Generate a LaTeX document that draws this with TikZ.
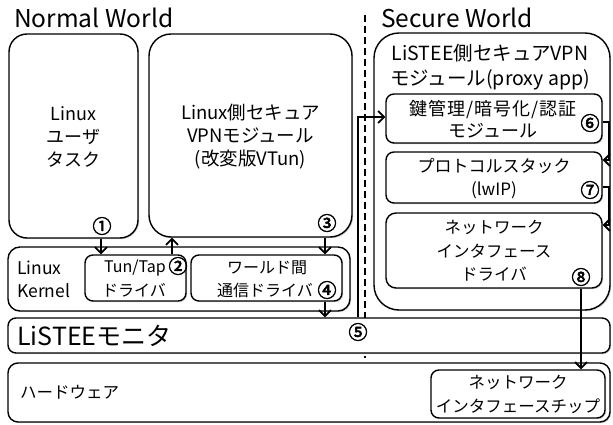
\documentclass[tikz,border=0pt]{standalone}
\usepackage{fontspec}
\setmainfont{Noto Sans CJK JP}
\newfontfamily\numfont{Noto Sans CJK JP}[FakeBold=3]
\usetikzlibrary{arrows.meta,shadows}
\begin{document}
\begin{tikzpicture}[x=1pt,y=-1pt,
  box/.style={draw, line width=1.4pt, fill=white, rounded corners=#1, inner sep=0pt,
    drop shadow={shadow xshift=1.2pt,shadow yshift=-1.2pt,opacity=0.35}},
  box/.default=8pt,
  txt/.style={inner sep=0pt, align=center, font=\fontsize{18}{23}\selectfont},
  small/.style={inner sep=0pt, align=center, font=\fontsize{16}{22}\selectfont},
  title/.style={inner sep=0pt, anchor=west, font=\fontsize{24.5}{28}\selectfont},
  num/.style={inner sep=0pt, font=\fontsize{19}{19}\numfont},
  arr/.style={line width=1.8pt, -{Straight Barb[length=6pt,width=12pt]}},
  divider/.style={line width=2.6pt, dash pattern=on 7pt off 4pt}]
\useasboundingbox (0,0) rectangle (613,425);

% Normal world
\node[box=18pt, minimum width=129pt, minimum height=204pt] (user) at (73.5,136) {};
\node[txt] (usert) at (73.5,137) {Linux\\ユーザ\\タスク};
\node[box=22pt, minimum width=203pt, minimum height=203pt] (vpn) at (250.5,135.5) {};
\node[txt, font=\fontsize{18.5}{23}\selectfont] (vpnt) at (250.5,137) {Linux側セキュア\\VPNモジュール\\(改変版VTun)};

\node[box=12pt, minimum width=342pt, minimum height=64pt] (kernel) at (179,279) {};
\node[small, anchor=west, align=left, font=\fontsize{17.5}{23}\selectfont] (kernelt) at (17,279) {Linux\\Kernel};
\node[box=8pt, minimum width=101pt, minimum height=46pt] (tun) at (135.5,278) {};
\node[small] (tun1) at (135,268) {Tun/Tap};
\node[small] (tun2) at (134,290) {ドライバ};
\node[box=8pt, minimum width=151pt, minimum height=46pt] (comm) at (266.5,278) {};
\node[small] (comm1) at (267,268) {ワールド間};
\node[small] (comm2) at (265,290) {通信ドライバ};

% Secure world
\node[box=25pt, minimum width=236pt, minimum height=277pt] (secure) at (492,171.5) {};
\node[inner sep=0pt, align=center, font=\fontsize{19.5}{25}\selectfont] (securet) at (490,67) {LiSTEE側セキュアVPN\\モジュール(proxy app)};
\node[box=8pt, minimum width=216pt, minimum height=49pt] (key) at (494,118.5) {};
\node[txt, font=\fontsize{18}{22}\selectfont] (keyt) at (493,119) {{\addfontfeature{LetterSpace=5}鍵管理/暗号化/認証}\\モジュール};
\node[box=8pt, minimum width=216pt, minimum height=51pt] (proto) at (494,177.5) {};
\node[txt, font=\fontsize{17}{23}\selectfont] (protot) at (494,178.5) {プロトコルスタック\\(lwIP)};
\node[box=10pt, minimum width=216pt, minimum height=75pt] (nic) at (494,250.5) {};
\node[txt, font=\fontsize{16.5}{23.5}\selectfont] (nict) at (494,251) {ネットワーク\\インタフェース\\ドライバ};

% divider between worlds
\coordinate (dtop) at (365,15);
\coordinate (dbot) at (365,358);
\draw[divider] (dtop) -- (dbot);

% Monitor and hardware
\node[box=8pt, minimum width=602pt, minimum height=35pt] (monitor) at (309,335.5) {};
\node[inner sep=0pt, anchor=west, font=\fontsize{25}{28}\selectfont] (monitort) at (17,336) {LiSTEEモニタ};
\node[box=10pt, minimum width=602pt, minimum height=59pt] (hw) at (309,392.5) {};
\node[inner sep=0pt, anchor=west, font=\fontsize{16.5}{20}\selectfont] (hwt) at (20,392) {ハードウェア};
\node[box=8pt, minimum width=174pt, minimum height=48pt] (chip) at (518,394) {};
\node[inner sep=0pt, align=center, font=\fontsize{16.5}{24}\selectfont] (chipt) at (518,394) {ネットワーク\\インタフェースチップ};

% titles
\node[title] (nw) at (14,18) {Normal World};
\node[title] (sw) at (381,18) {Secure World};

% arrows
\coordinate (x1) at (101,0);
\coordinate (x2) at (172,0);
\coordinate (x3) at (325,0);
\coordinate (x8) at (581,0);
\draw[arr] (user.south -| x1) -- (tun.north -| x1);
\draw[arr] (tun.north -| x2) -- (vpn.south -| x2);
\draw[arr] (vpn.south -| x3) -- (comm.north -| x3);
\draw[arr] (comm.south -| x3) -- (monitor.north -| x3);
\coordinate (c5) at (358,117);
\draw[arr] (monitor.north -| c5) |- (key.west |- c5);
\coordinate (c6) at (609,122);
\coordinate (c6in) at (609,160);
\draw[arr] (key.east |- c6) -- (c6) -- (c6in) -- (proto.east |- c6in);
\coordinate (c7) at (609,187);
\coordinate (c7in) at (609,225);
\draw[arr] (proto.east |- c7) -- (c7) -- (c7in) -- (nic.east |- c7in);
\draw[arr] (nic.south -| x8) -- (chip.north -| x8);

% circled numbers
\node[num] (n1) at (102,226) {①};
\node[num] (n2) at (178,266) {②};
\node[num] (n3) at (327,223) {③};
\node[num] (n4) at (327,290) {④};
\node[num] (n5) at (358,332) {⑤};
\node[num] (n6) at (590,123) {⑥};
\node[num] (n7) at (590,190) {⑦};
\node[num] (n8) at (581,277) {⑧};
\end{tikzpicture}
\end{document}
